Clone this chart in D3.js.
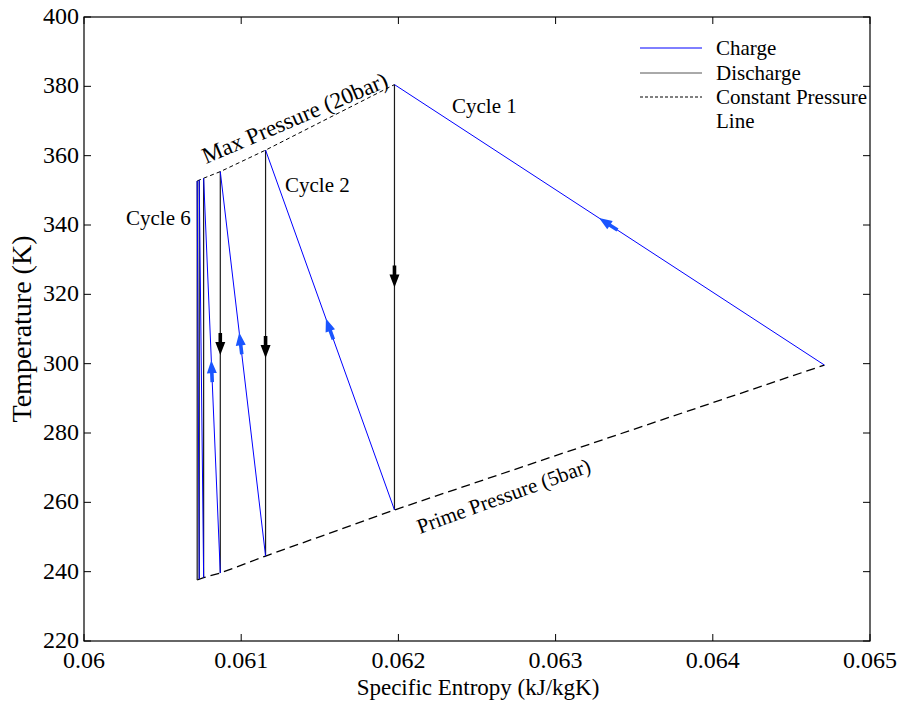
<!DOCTYPE html>
<html>
<head>
<meta charset="utf-8">
<script src="https://cdn.jsdelivr.net/npm/d3@7"></script>
<style>
  body { margin: 0; background: #fff; }
  svg { font-family: "Liberation Serif", "Times New Roman", serif; }
</style>
</head>
<body>
<svg id="chart" width="904" height="702"></svg>
<script>
// points: entropy (kJ/kgK) and temperature (K)
// top of each charge (reached at max pressure) and end of each discharge
const cycles = [1, 2, 3, 4, 5, 6];
const topS = [0.061975, 0.061155, 0.060867, 0.060761, 0.060733, 0.060720];
const topT = [380.5, 361.6, 355.4, 353.5, 353.0, 352.7];
const bottomT = [257.8, 244.5, 239.6, 238.3, 237.9, 237.6];
const startS = 0.064710;   // first charge starts here
const startT = 299.6;

// constant pressure lines
const maxLineS = [0.060720, 0.060761, 0.060867, 0.061155, 0.061975];
const maxLineT = [352.7, 353.5, 355.4, 361.6, 380.5];
const primeLineS = [0.060720, 0.060761, 0.060867, 0.061155, 0.061975, 0.064710];
const primeLineT = [237.6, 238.3, 239.6, 244.5, 257.8, 299.6];

// arrow tips (temperature along the line)
const chargeArrowT = [342, 313, 309, 301];
const dischargeArrowT = [322, 301.6, 302.5];

const xTicks = [0.06, 0.061, 0.062, 0.063, 0.064, 0.065];
const yTicks = [220, 240, 260, 280, 300, 320, 340, 360, 380, 400];

const mLeft = 84, mRight = 870, mTop = 17, mBottom = 641;
const x = d3.scaleLinear().domain([0.06, 0.065]).range([mLeft, mRight]);
const y = d3.scaleLinear().domain([220, 400]).range([mBottom, mTop]);

const svg = d3.select("#chart");
const blue = "#0000ff", arrowBlue = "#1a55ff", dark = "#1a1a1a";

// charge segments: from previous discharge end to this cycle's top
const charge = cycles.map((c, i) => {
  const s0 = i === 0 ? startS : topS[i - 1];
  const t0 = i === 0 ? startT : bottomT[i - 1];
  return [[s0, t0], [topS[i], topT[i]]];
});
const discharge = cycles.map((c, i) => [[topS[i], topT[i]], [topS[i], bottomT[i]]]);

const line = d3.line().x(d => x(d[0])).y(d => y(d[1]));

// constant pressure lines
svg.append("path")
  .attr("d", line(maxLineS.map((s, i) => [s, maxLineT[i]])))
  .attr("fill", "none").attr("stroke", "#000").attr("stroke-width", 1)
  .attr("stroke-dasharray", "4,3");
svg.append("path")
  .attr("d", line(primeLineS.map((s, i) => [s, primeLineT[i]])))
  .attr("fill", "none").attr("stroke", "#000").attr("stroke-width", 1.3)
  .attr("stroke-dasharray", "9,5");

svg.selectAll(".dis").data(discharge).join("path")
  .attr("class", "dis")
  .attr("d", line)
  .attr("fill", "none").attr("stroke", dark).attr("stroke-width", 1.2);

svg.selectAll(".chg").data(charge).join("path")
  .attr("class", "chg")
  .attr("d", line)
  .attr("fill", "none").attr("stroke", blue).attr("stroke-width", 1);

// arrow head: narrow shaft block + triangle, pointing along (dx,dy)
function arrow(px, py, dx, dy, color) {
  const len = Math.hypot(dx, dy), ux = dx / len, uy = dy / len;
  const nx = -uy, ny = ux;
  const tri = 13, hw = 5, shaft = 9, sw = 1.8;
  const p = (a, b) => [px - ux * a + nx * b, py - uy * a + ny * b];
  const pts = [p(0, 0), p(tri, hw), p(tri, sw), p(tri + shaft, sw),
               p(tri + shaft, -sw), p(tri, -sw), p(tri, -hw)];
  svg.append("path").attr("d", "M" + pts.map(q => q.join(",")).join("L") + "Z")
    .attr("fill", color).attr("stroke", "none");
}

chargeArrowT.forEach((t, i) => {
  const [[s0, t0], [s1, t1]] = charge[i];
  const f = (t - t0) / (t1 - t0);
  const s = s0 + f * (s1 - s0);
  arrow(x(s), y(t), x(s1) - x(s0), y(t1) - y(t0), arrowBlue);
});
dischargeArrowT.forEach((t, i) => {
  arrow(x(topS[i]), y(t), 0, 1, "#000");
});

// axes box with inward ticks on all sides
svg.append("rect").attr("x", mLeft).attr("y", mTop)
  .attr("width", mRight - mLeft).attr("height", mBottom - mTop)
  .attr("fill", "none").attr("stroke", "#000").attr("stroke-width", 1.2);

const tl = 7;
const g = svg.append("g").attr("stroke", "#000").attr("stroke-width", 1);
xTicks.forEach(v => {
  g.append("line").attr("x1", x(v)).attr("x2", x(v)).attr("y1", mBottom).attr("y2", mBottom - tl);
  g.append("line").attr("x1", x(v)).attr("x2", x(v)).attr("y1", mTop).attr("y2", mTop + tl);
});
yTicks.forEach(v => {
  g.append("line").attr("x1", mLeft).attr("x2", mLeft + tl).attr("y1", y(v)).attr("y2", y(v));
  g.append("line").attr("x1", mRight).attr("x2", mRight - tl).attr("y1", y(v)).attr("y2", y(v));
});

svg.selectAll(".xt").data(xTicks).join("text")
  .attr("x", d => x(d)).attr("y", mBottom + 27)
  .attr("text-anchor", "middle").attr("font-size", 24)
  .text(d => d3.format("")(d));
svg.selectAll(".yt").data(yTicks).join("text")
  .attr("x", mLeft - 5).attr("y", d => y(d) + 7)
  .attr("text-anchor", "end").attr("font-size", 24)
  .text(d => d);

svg.append("text").attr("x", 478).attr("y", 695)
  .attr("text-anchor", "middle").attr("font-size", 23)
  .text("Specific Entropy (kJ/kgK)");
svg.append("text").attr("transform", `translate(31,${(mTop + mBottom) / 2}) rotate(-90)`)
  .attr("text-anchor", "middle").attr("font-size", 28)
  .text("Temperature (K)");

// cycle labels
svg.append("text").attr("x", 452).attr("y", 113).attr("font-size", 21).text("Cycle 1");
svg.append("text").attr("x", 285).attr("y", 192).attr("font-size", 21).text("Cycle 2");
svg.append("text").attr("x", 126).attr("y", 225).attr("font-size", 21).text("Cycle 6");

svg.append("text").attr("transform", "translate(206,164) rotate(-23)")
  .attr("font-size", 23).text("Max Pressure (20bar)");
svg.append("text").attr("transform", "translate(420,534) rotate(-20)")
  .attr("font-size", 21).text("Prime Pressure (5bar)");

// legend
const legend = [
  { label: "Charge", color: blue, dash: null, y: 48 },
  { label: "Discharge", color: "#555", dash: null, y: 73 },
  { label: "Constant Pressure", color: "#000", dash: "3,2", y: 97 }
];
legend.forEach(d => {
  svg.append("line").attr("x1", 640).attr("x2", 702).attr("y1", d.y).attr("y2", d.y)
    .attr("stroke", d.color).attr("stroke-width", 1)
    .attr("stroke-dasharray", d.dash);
  svg.append("text").attr("x", 716).attr("y", d.y + 7).attr("font-size", 21).text(d.label);
});
svg.append("text").attr("x", 716).attr("y", 128).attr("font-size", 21).text("Line");
</script>
</body>
</html>
